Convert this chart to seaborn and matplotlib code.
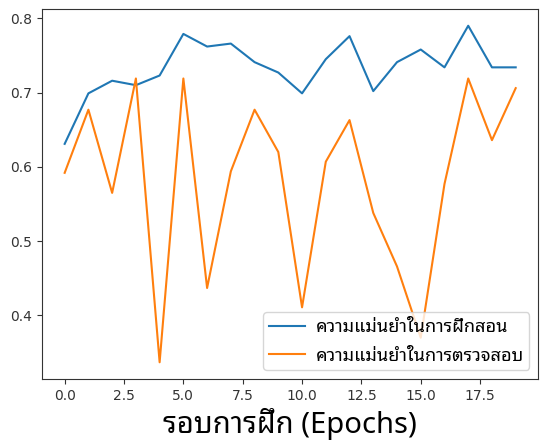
import matplotlib
matplotlib.use("Agg")
import matplotlib.pyplot as plt
import seaborn as sns
import pandas as pd
from matplotlib import font_manager as fm
from matplotlib.ft2font import FT2Font

epochs = list(range(20))
train_acc = [0.631, 0.699, 0.716, 0.710, 0.723, 0.779, 0.762, 0.766, 0.741, 0.727,
             0.699, 0.745, 0.776, 0.702, 0.741, 0.758, 0.734, 0.790, 0.734, 0.734]
val_acc = [0.592, 0.677, 0.565, 0.719, 0.337, 0.719, 0.437, 0.594, 0.677, 0.620,
           0.411, 0.607, 0.663, 0.538, 0.466, 0.370, 0.577, 0.719, 0.636, 0.706]
train_label = "ความแม่นยำในการฝึกสอน"
val_label = "ความแม่นยำในการตรวจสอบ"
x_label = "รอบการฝึก (Epochs)"

# find a font with Thai glyphs
preferred = ["Noto Sans Thai Looped", "Loma", "Garuda", "Noto Sans Thai", "Tlwg Typo",
             "Waree", "Tahoma", "Leelawadee UI", "Norasi"]
cands = {}
for f in fm.fontManager.ttflist:
    try:
        cm = FT2Font(f.fname).get_charmap()
    except Exception:
        continue
    if 0x0E04 in cm and 0x0E1D in cm:
        cands.setdefault(f.name, f.fname)
thai = None
for p in preferred:
    if p in cands:
        thai = p
        break
if thai is None and cands:
    thai = sorted(cands)[0]
fam = [thai, "DejaVu Sans"] if thai else ["DejaVu Sans"]

df_train = pd.DataFrame({"epoch": epochs, "acc": train_acc})
df_val = pd.DataFrame({"epoch": epochs, "acc": val_acc})

fig = plt.figure(figsize=(5.47, 4.46), dpi=100)
ax = fig.add_axes([0.077, 0.150, 0.907, 0.830])
sns.lineplot(data=df_train, x="epoch", y="acc", ax=ax, color="#1f77b4", lw=1.5, label=train_label)
sns.lineplot(data=df_val, x="epoch", y="acc", ax=ax, color="#ff7f0e", lw=1.5, label=val_label)

ax.set_ylabel("")
ax.set_xlabel(x_label, fontsize=21, family=fam, labelpad=4)
ax.set_xticks([0, 2.5, 5, 7.5, 10, 12.5, 15, 17.5])
ax.set_yticks([0.4, 0.5, 0.6, 0.7, 0.8])
ax.tick_params(labelsize=10, colors="#333333")
for s in ax.spines.values():
    s.set_color("#333333")
leg = ax.legend(loc="lower right", prop=fm.FontProperties(family=fam, size=13),
                borderpad=0.3, handletextpad=0.6, labelspacing=0.6)

fig.savefig("out.png", dpi=100)
